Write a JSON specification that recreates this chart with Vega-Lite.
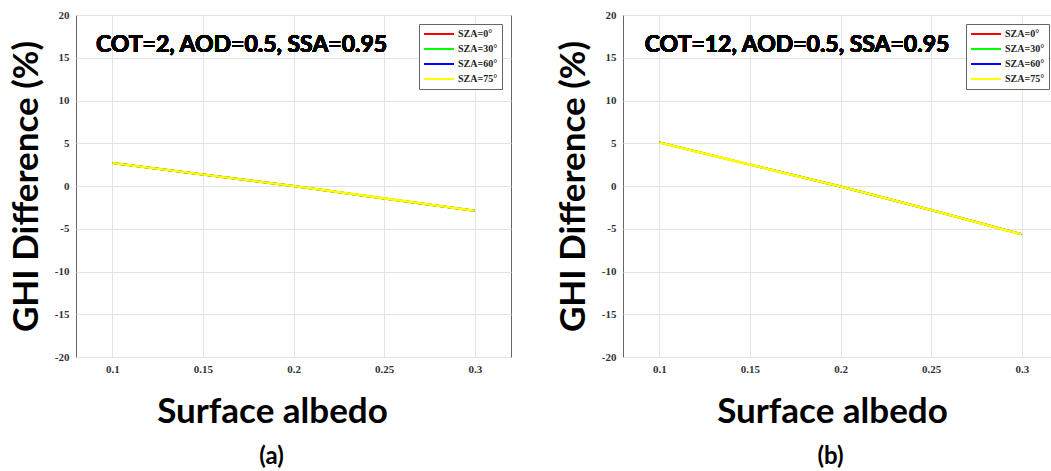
{
  "$schema": "https://vega.github.io/schema/vega-lite/v6.json",
  "padding": {"left": 8, "top": 8, "right": 0, "bottom": 0},
  "background": "white",
  "spacing": 43,
  "resolve": {"legend": {"color": "independent"}, "scale": {"color": "independent", "x": "independent", "y": "independent"}},
  "config": {
    "view": {"stroke": "#666666", "strokeWidth": 1},
    "axis": {
      "labelFont": "Liberation Serif", "labelFontWeight": "bold", "labelFontSize": 11, "labelColor": "#333333",
      "titleFont": "Lato", "titleFontWeight": "bold", "titleFontSize": 35, "titleColor": "#000000",
      "gridColor": "#e3e3e3", "gridWidth": 1, "domain": false, "ticks": false
    },
    "legend": {
      "orient": "top-right", "offset": 9, "strokeColor": "#666666", "fillColor": "white",
      "padding": 4, "symbolType": "stroke", "symbolSize": 900, "symbolStrokeWidth": 2,
      "labelFont": "Liberation Serif", "labelFontWeight": "bold", "labelFontSize": 10, "labelColor": "#222222",
      "clipHeight": 12, "rowPadding": 3, "labelOffset": 3, "title": null
    },
    "title": {"font": "Lato", "fontWeight": "bold", "fontSize": 24, "color": "#000000", "orient": "bottom", "anchor": "middle", "offset": 16}
  },
  "hconcat": [
    {
      "width": 435, "height": 342,
      "title": {"text": "(a)", "dx": -22},
      "data": {"values": [
        {"sza": "SZA=0°", "albedo": 0.1, "diff": 2.7}, {"sza": "SZA=0°", "albedo": 0.15, "diff": 1.35}, {"sza": "SZA=0°", "albedo": 0.2, "diff": 0.0}, {"sza": "SZA=0°", "albedo": 0.25, "diff": -1.45}, {"sza": "SZA=0°", "albedo": 0.3, "diff": -2.9},
        {"sza": "SZA=30°", "albedo": 0.1, "diff": 2.7}, {"sza": "SZA=30°", "albedo": 0.15, "diff": 1.35}, {"sza": "SZA=30°", "albedo": 0.2, "diff": 0.0}, {"sza": "SZA=30°", "albedo": 0.25, "diff": -1.45}, {"sza": "SZA=30°", "albedo": 0.3, "diff": -2.9},
        {"sza": "SZA=60°", "albedo": 0.1, "diff": 2.7}, {"sza": "SZA=60°", "albedo": 0.15, "diff": 1.35}, {"sza": "SZA=60°", "albedo": 0.2, "diff": 0.0}, {"sza": "SZA=60°", "albedo": 0.25, "diff": -1.45}, {"sza": "SZA=60°", "albedo": 0.3, "diff": -2.9},
        {"sza": "SZA=75°", "albedo": 0.1, "diff": 2.7}, {"sza": "SZA=75°", "albedo": 0.15, "diff": 1.35}, {"sza": "SZA=75°", "albedo": 0.2, "diff": 0.0}, {"sza": "SZA=75°", "albedo": 0.25, "diff": -1.45}, {"sza": "SZA=75°", "albedo": 0.3, "diff": -2.9}
      ]},
      "encoding": {
        "x": {"field": "albedo", "type": "quantitative", "title": "Surface albedo",
          "scale": {"domain": [0.08, 0.32], "nice": false, "zero": false},
          "axis": {"values": [0.1, 0.15, 0.2, 0.25, 0.3], "labelExpr": "'' + datum.value", "labelPadding": 6, "titlePadding": 20, "titleX": 196}},
        "y": {"field": "diff", "type": "quantitative", "title": "GHI Difference (%)",
          "scale": {"domain": [-20, 20], "nice": false},
          "axis": {"values": [-20, -15, -10, -5, 0, 5, 10, 15, 20], "labelExpr": "'' + datum.value", "labelPadding": 7, "titlePadding": 10}},
        "color": {"field": "sza", "type": "nominal",
          "scale": {"domain": ["SZA=0°", "SZA=30°", "SZA=60°", "SZA=75°"], "range": ["#ff0000", "#00ff00", "#0000ff", "#ffff00"]}}
      },
      "layer": [
        {
          "transform": [{"filter": "datum.sza != 'SZA=75°'"}],
          "mark": {"type": "line", "strokeWidth": 2}
        },
        {
          "transform": [{"filter": "datum.sza == 'SZA=75°'"}],
          "mark": {"type": "line", "strokeWidth": 2.6}
        },
        {
          "mark": {"type": "text", "font": "Lato", "fontWeight": "bold", "fontSize": 23, "align": "left", "baseline": "middle", "color": "#000000"},
          "encoding": {
            "x": {"datum": 0.091, "type": "quantitative"},
            "y": {"datum": 16.5, "type": "quantitative"},
            "color": {"value": "#000000"},
            "text": {"value": "COT=2, AOD=0.5, SSA=0.95"}
          }
        }
      ]
    },
    {
      "width": 435, "height": 342,
      "title": {"text": "(b)", "dx": -10},
      "data": {"values": [
        {"sza": "SZA=0°", "albedo": 0.1, "diff": 5.1}, {"sza": "SZA=0°", "albedo": 0.15, "diff": 2.5}, {"sza": "SZA=0°", "albedo": 0.2, "diff": -0.05}, {"sza": "SZA=0°", "albedo": 0.25, "diff": -2.8}, {"sza": "SZA=0°", "albedo": 0.3, "diff": -5.65},
        {"sza": "SZA=30°", "albedo": 0.1, "diff": 5.1}, {"sza": "SZA=30°", "albedo": 0.15, "diff": 2.5}, {"sza": "SZA=30°", "albedo": 0.2, "diff": -0.05}, {"sza": "SZA=30°", "albedo": 0.25, "diff": -2.8}, {"sza": "SZA=30°", "albedo": 0.3, "diff": -5.65},
        {"sza": "SZA=60°", "albedo": 0.1, "diff": 5.1}, {"sza": "SZA=60°", "albedo": 0.15, "diff": 2.5}, {"sza": "SZA=60°", "albedo": 0.2, "diff": -0.05}, {"sza": "SZA=60°", "albedo": 0.25, "diff": -2.8}, {"sza": "SZA=60°", "albedo": 0.3, "diff": -5.65},
        {"sza": "SZA=75°", "albedo": 0.1, "diff": 5.1}, {"sza": "SZA=75°", "albedo": 0.15, "diff": 2.5}, {"sza": "SZA=75°", "albedo": 0.2, "diff": -0.05}, {"sza": "SZA=75°", "albedo": 0.25, "diff": -2.8}, {"sza": "SZA=75°", "albedo": 0.3, "diff": -5.65}
      ]},
      "encoding": {
        "x": {"field": "albedo", "type": "quantitative", "title": "Surface albedo",
          "scale": {"domain": [0.08, 0.32], "nice": false, "zero": false},
          "axis": {"values": [0.1, 0.15, 0.2, 0.25, 0.3], "labelExpr": "'' + datum.value", "labelPadding": 6, "titlePadding": 20, "titleX": 209}},
        "y": {"field": "diff", "type": "quantitative", "title": "GHI Difference (%)",
          "scale": {"domain": [-20, 20], "nice": false},
          "axis": {"values": [-20, -15, -10, -5, 0, 5, 10, 15, 20], "labelExpr": "'' + datum.value", "labelPadding": 7, "titlePadding": 10}},
        "color": {"field": "sza", "type": "nominal",
          "scale": {"domain": ["SZA=0°", "SZA=30°", "SZA=60°", "SZA=75°"], "range": ["#ff0000", "#00ff00", "#0000ff", "#ffff00"]}}
      },
      "layer": [
        {
          "transform": [{"filter": "datum.sza != 'SZA=75°'"}],
          "mark": {"type": "line", "strokeWidth": 2}
        },
        {
          "transform": [{"filter": "datum.sza == 'SZA=75°'"}],
          "mark": {"type": "line", "strokeWidth": 2.6}
        },
        {
          "mark": {"type": "text", "font": "Lato", "fontWeight": "bold", "fontSize": 23, "align": "left", "baseline": "middle", "color": "#000000"},
          "encoding": {
            "x": {"datum": 0.092, "type": "quantitative"},
            "y": {"datum": 16.5, "type": "quantitative"},
            "color": {"value": "#000000"},
            "text": {"value": "COT=12, AOD=0.5, SSA=0.95"}
          }
        }
      ]
    }
  ]
}
